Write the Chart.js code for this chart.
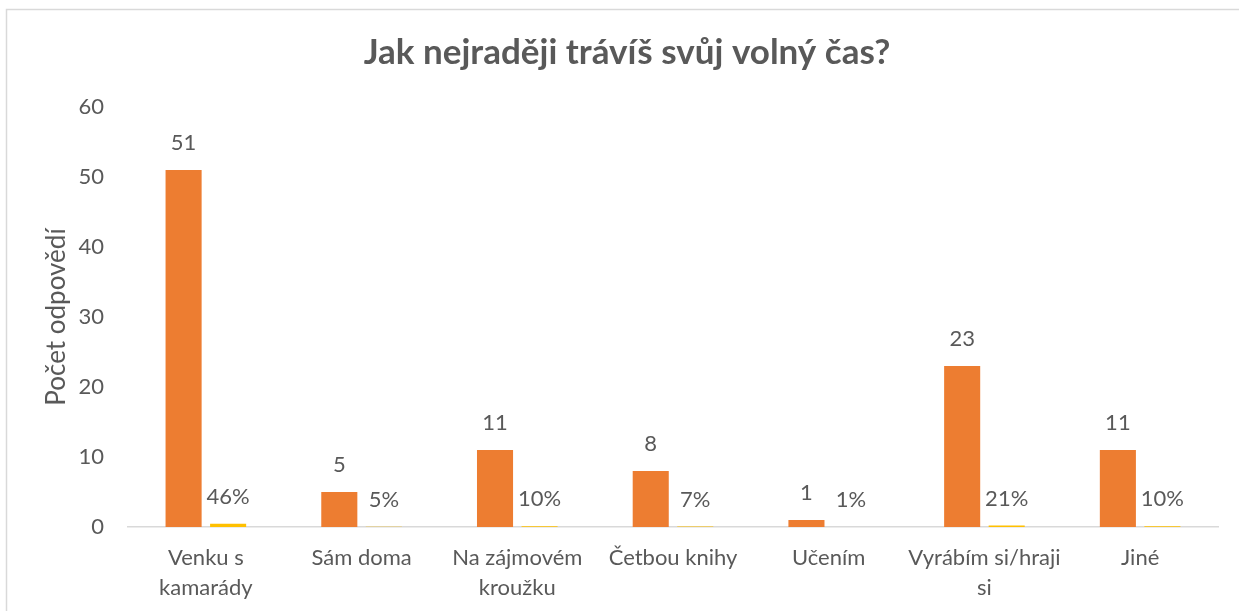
<!DOCTYPE html>
<html>
<head>
<meta charset="utf-8">
<script src="https://cdn.jsdelivr.net/npm/chart.js@4.4.1/dist/chart.umd.min.js"></script>
<style>
  html, body { margin: 0; padding: 0; background: #ffffff; }
  #wrap { width: 1239px; height: 611px; position: relative; }
</style>
</head>
<body>
<div id="wrap"><canvas id="c" width="1239" height="611"></canvas></div>
<script>
const titleText = 'Jak nejraději trávíš svůj volný čas?';
const yAxisTitle = 'Počet odpovědí';
const categories = [
  ['Venku s', 'kamarády'],
  'Sám doma',
  ['Na zájmovém', 'kroužku'],
  'Četbou knihy',
  'Učením',
  ['Vyrábím si/hraji', 'si'],
  'Jiné'
];
const counts = [51, 5, 11, 8, 1, 23, 11];
const shares = [0.46, 0.05, 0.10, 0.07, 0.01, 0.21, 0.10];
const yTicks = [0, 10, 20, 30, 40, 50, 60];

const TEXT = '#595959';
const FONT = 'Lato, "Liberation Sans", sans-serif';

const frame = {
  id: 'frame',
  beforeDraw(chart) {
    const ctx = chart.ctx;
    ctx.save();
    ctx.fillStyle = '#ffffff';
    ctx.fillRect(0, 0, chart.width, chart.height);
    ctx.strokeStyle = '#D9D9D9';
    ctx.lineWidth = 1.5;
    ctx.beginPath();
    ctx.moveTo(6.5, chart.height);
    ctx.lineTo(6.5, 9.5);
    ctx.lineTo(chart.width, 9.5);
    ctx.stroke();
    // chart title
    ctx.fillStyle = TEXT;
    ctx.font = 'bold 35px ' + FONT;
    ctx.textAlign = 'center';
    ctx.textBaseline = 'middle';
    ctx.fillText(titleText, 627, 53);
    ctx.restore();
  }
};

const valueLabels = {
  id: 'valueLabels',
  afterDatasetsDraw(chart) {
    const ctx = chart.ctx;
    ctx.save();
    ctx.fillStyle = TEXT;
    ctx.font = '22px ' + FONT;
    ctx.textAlign = 'center';
    ctx.textBaseline = 'middle';
    chart.data.datasets.forEach((ds, di) => {
      const meta = chart.getDatasetMeta(di);
      meta.data.forEach((bar, i) => {
        const v = ds.data[i];
        const txt = di === 0 ? String(v) : Math.round(v * 100) + '%';
        ctx.fillText(txt, bar.x, bar.y - 27);
      });
    });
    ctx.restore();
  }
};

new Chart(document.getElementById('c'), {
  type: 'bar',
  data: {
    labels: categories,
    datasets: [
      {
        label: 'Počet',
        data: counts,
        backgroundColor: '#ED7D31',
        categoryPercentage: 0.572,
        barPercentage: 0.81
      },
      {
        label: 'Podíl',
        data: shares,
        backgroundColor: '#FFC000',
        categoryPercentage: 0.572,
        barPercentage: 0.81
      }
    ]
  },
  options: {
    responsive: false,
    animation: false,
    devicePixelRatio: 1,
    layout: { padding: { left: 0, right: 21, top: 107, bottom: 0 } },
    plugins: {
      legend: { display: false },
      tooltip: { enabled: false },
      title: { display: false }
    },
    scales: {
      x: {
        grid: { display: false, drawTicks: false },
        border: { display: true, color: '#D9D9D9', width: 1.5 },
        ticks: {
          color: TEXT,
          font: { family: FONT, size: 22, lineHeight: 1.36 },
          padding: 16,
          maxRotation: 0,
          autoSkip: false
        },
        afterFit(scale) { scale.height = 84; }
      },
      y: {
        min: 0,
        max: 60,
        afterBuildTicks(scale) { scale.ticks = yTicks.map(v => ({ value: v })); },
        grid: { display: false, drawTicks: false },
        border: { display: false },
        ticks: {
          color: TEXT,
          font: { family: FONT, size: 22 },
          padding: 24
        },
        title: {
          display: true,
          text: yAxisTitle,
          color: TEXT,
          font: { family: FONT, size: 26, lineHeight: 1.2 },
          padding: { top: 41, bottom: 0 }
        },
        afterFit(scale) { scale.width = 128; }
      }
    }
  },
  plugins: [frame, valueLabels]
});
</script>
</body>
</html>
